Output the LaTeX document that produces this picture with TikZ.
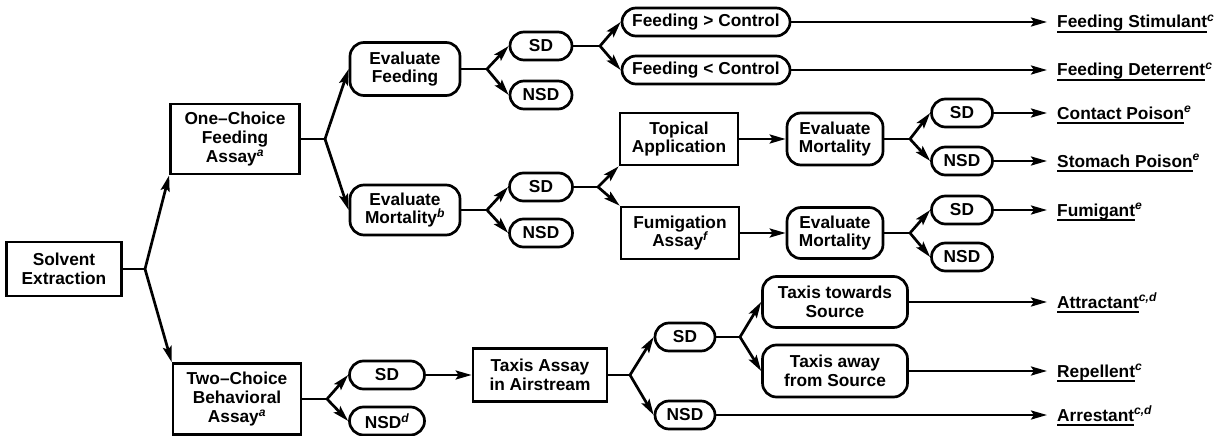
\documentclass[tikz,border=0pt]{standalone}
\usepackage{fontspec}
\setmainfont{Liberation Sans}
\usetikzlibrary{arrows.meta}
\newcommand{\sups}[1]{\textsuperscript{\itshape #1}}
\newcommand{\ulab}[1]{\setbox0\hbox{#1}\rlap{\rule[-5pt]{\wd0}{2.4pt}}\box0}
\tikzset{
  every node/.style={font=\fontsize{17.3}{18.8}\selectfont\bfseries, align=center, inner sep=0pt},
  sq/.style={draw, line width=2.7pt},
  rr/.style={draw, line width=2.7pt, rounded corners=14pt},
  pill/.style={draw, line width=2.7pt, rounded corners=14pt, minimum height=28pt},
  lab/.style={anchor=base west},
  ln/.style={line width=2.7pt},
  arr/.style={line width=2.7pt, -{Stealth[length=16pt,width=9pt,inset=3pt]}},
}
\begin{document}
\begin{tikzpicture}[x=1pt,y=-1pt]
\useasboundingbox (0,0) rectangle (1226,436);
% boxes
\node[sq, minimum width=115pt, minimum height=54pt] (sol) at (64,269) {Solvent\\Extraction};
\node[sq, minimum width=129pt, minimum height=70pt] (one) at (235,139) {One--Choice\\Feeding\\Assay\sups{a}};
\node[sq, minimum width=128pt, minimum height=71pt] (two) at (237,399) {Two--Choice\\Behavioral\\Assay\sups{a}};
\node[rr, minimum width=110pt, minimum height=53pt] (evf) at (405,69) {Evaluate\\Feeding};
\node[rr, minimum width=110pt, minimum height=50pt] (evm) at (405,210) {Evaluate\\Mortality\sups{b}};
\node[pill, minimum width=62pt] (sd1) at (541,46) {SD};
\node[pill, minimum width=62pt] (nsd1) at (541,95) {NSD};
\node[pill, minimum width=168pt] (fgc) at (706,22) {Feeding > Control};
\node[pill, minimum width=168pt] (flc) at (706,70) {Feeding < Control};
\node[pill, minimum width=63pt] (sd2) at (541,187) {SD};
\node[pill, minimum width=63pt] (nsd2) at (541,233) {NSD};
\node[sq, minimum width=118pt, minimum height=52pt] (top) at (679,139) {Topical\\Application};
\node[sq, minimum width=118pt, minimum height=52pt] (fum) at (680,233) {Fumigation\\Assay\sups{f}};
\node[rr, minimum width=96pt, minimum height=52pt] (evm2) at (835,139) {Evaluate\\Mortality};
\node[rr, minimum width=96pt, minimum height=51pt] (evm3) at (835,233) {Evaluate\\Mortality};
\node[pill, minimum width=61pt] (sd3) at (962,113) {SD};
\node[pill, minimum width=61pt] (nsd3) at (962,161) {NSD};
\node[pill, minimum width=61pt] (sd4) at (962,210) {SD};
\node[pill, minimum width=61pt] (nsd4) at (962,257) {NSD};
\node[pill, minimum width=75pt] (sd5) at (387,375) {SD};
\node[pill, minimum width=75pt] (nsd5) at (387,421) {NSD\sups{d}};
\node[sq, minimum width=134pt, minimum height=53pt] (tax) at (540,375) {Taxis Assay\\in Airstream};
\node[pill, minimum width=60pt] (sd6) at (685,337) {SD};
\node[pill, minimum width=60pt] (nsd6) at (685,415) {NSD};
\node[rr, minimum width=145pt, minimum height=51pt] (tts) at (835,302) {Taxis towards\\Source};
\node[rr, minimum width=145pt, minimum height=52pt] (tas) at (835,371) {Taxis away\\from Source};
% result labels
\node[lab] (l1) at (1057,28) {\ulab{Feeding Stimulant}\sups{c}};
\node[lab] (l2) at (1057,76) {\ulab{Feeding Deterrent}\sups{c}};
\node[lab] (l3) at (1057,119) {\ulab{Contact Poison}\sups{e}};
\node[lab] (l4) at (1057,167) {\ulab{Stomach Poison}\sups{e}};
\node[lab] (l5) at (1057,216) {\ulab{Fumigant}\sups{e}};
\node[lab] (l6) at (1057,308) {\ulab{Attractant}\sups{c,d}};
\node[lab] (l7) at (1057,377) {\ulab{Repellent}\sups{c}};
\node[lab] (l8) at (1057,421) {\ulab{Arrestant}\sups{c,d}};
% fork points
\coordinate (f0) at (145,269);
\coordinate (f1) at (325,139);
\coordinate (f2) at (487,69);
\coordinate (f3) at (600,46);
\coordinate (f4) at (487,210);
\coordinate (f5) at (598,187);
\coordinate (f6) at (910,139);
\coordinate (f7) at (910,233);
\coordinate (f8) at (327,399);
\coordinate (f9) at (630,375);
\coordinate (f10) at (740,337);
% connectors
\draw[ln] (sol.east) -- (f0);
\draw[arr] (f0) -- (one.south west);
\draw[arr] (f0) -- (two.north west);
\draw[ln] (one.east) -- (f1);
\draw[arr] (f1) -- (evf.west);
\draw[arr] (f1) -- (evm.west);
\draw[ln] (evf.east) -- (f2);
\draw[arr] (f2) -- (sd1.west);
\draw[arr] (f2) -- (nsd1.west);
\draw[ln] (sd1.east) -- (f3);
\draw[arr] (f3) -- (fgc.west);
\draw[arr] (f3) -- (flc.west);
\draw[arr] (fgc.east) -- (fgc.east -| 1047,0);
\draw[arr] (flc.east) -- (flc.east -| 1047,0);
\draw[ln] (evm.east) -- (f4);
\draw[arr] (f4) -- (sd2.west);
\draw[arr] (f4) -- (nsd2.west);
\draw[ln] (sd2.east) -- (f5);
\draw[arr] (f5) -- (top.south west);
\draw[arr] (f5) -- (fum.north west);
\draw[arr] (top.east) -- (evm2.west);
\draw[arr] (fum.east) -- (evm3.west);
\draw[ln] (evm2.east) -- (f6);
\draw[arr] (f6) -- (sd3.west);
\draw[arr] (f6) -- (nsd3.west);
\draw[ln] (evm3.east) -- (f7);
\draw[arr] (f7) -- (sd4.west);
\draw[arr] (f7) -- (nsd4.west);
\draw[arr] (sd3.east) -- (sd3.east -| 1047,0);
\draw[arr] (nsd3.east) -- (nsd3.east -| 1047,0);
\draw[arr] (sd4.east) -- (sd4.east -| 1047,0);
\draw[ln] (two.east) -- (f8);
\draw[arr] (f8) -- (sd5.west);
\draw[arr] (f8) -- (nsd5.west);
\draw[arr] (sd5.east) -- (tax.west);
\draw[ln] (tax.east) -- (f9);
\draw[arr] (f9) -- (sd6.west);
\draw[arr] (f9) -- (nsd6.west);
\draw[ln] (sd6.east) -- (f10);
\draw[arr] (f10) -- (tts.west);
\draw[arr] (f10) -- (tas.west);
\draw[arr] (tts.east) -- (tts.east -| 1047,0);
\draw[arr] (tas.east) -- (tas.east -| 1047,0);
\draw[arr] (nsd6.east) -- (nsd6.east -| 1047,0);
\end{tikzpicture}
\end{document}
